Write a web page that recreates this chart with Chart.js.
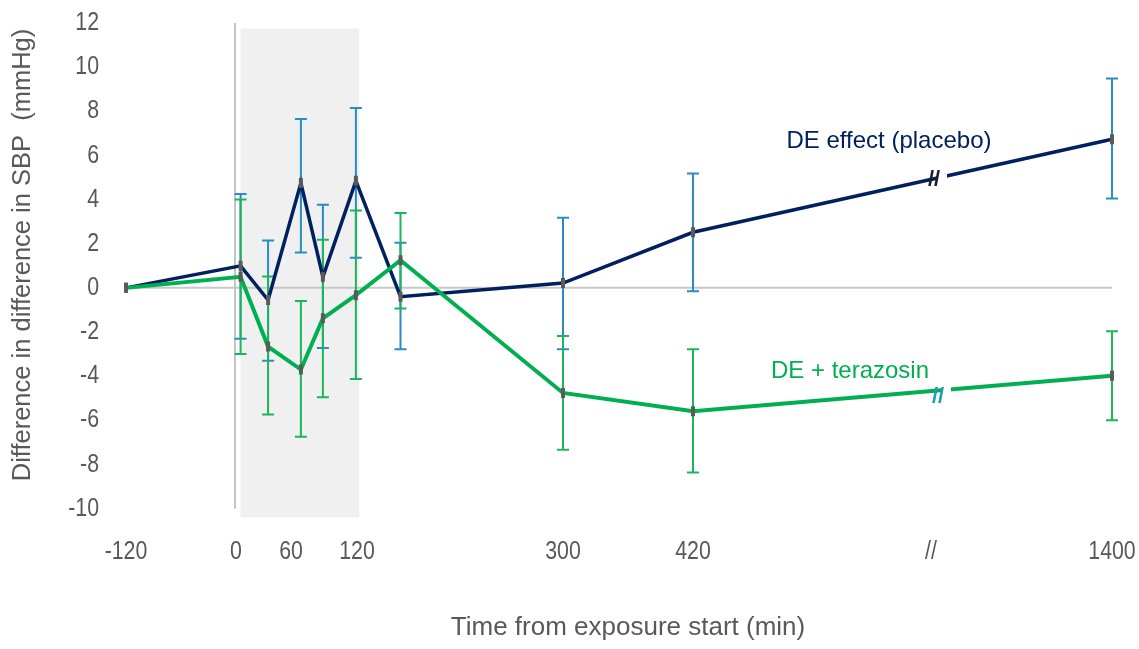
<!DOCTYPE html>
<html>
<head>
<meta charset="utf-8">
<title>SBP difference over time</title>
<script src="https://cdn.jsdelivr.net/npm/chart.js@4.4.1/dist/chart.umd.min.js"></script>
<style>
  html, body { margin: 0; padding: 0; background: #fff; }
  #chart { display: block; }
</style>
</head>
<body>
<canvas id="chart" width="1139" height="649"></canvas>
<script>
// Measurement times, minutes from exposure start
const timePoints = [-120, 5, 35, 69, 89, 119, 158, 300, 420, 1400];

// DE effect (placebo): mean and error-bar limits, mmHg
const placeboMean = [0, 1.0, -0.55, 4.75, 0.5, 4.85, -0.4, 0.22, 2.52, 6.73];
const placeboHigh = [null, 4.25, 2.15, 7.65, 3.77, 8.15, 2.04, 3.18, 5.18, 9.49];
const placeboLow  = [null, -2.31, -3.3, 1.6, -2.72, 1.37, -2.78, -2.78, -0.15, 4.05];

// DE + terazosin
const terazosinMean = [0, 0.5, -2.66, -3.7, -1.38, -0.33, 1.25, -4.76, -5.59, -3.98];
const terazosinHigh = [null, 4.0, 0.51, -0.6, 2.18, 3.5, 3.39, -2.18, -2.78, -1.97];
const terazosinLow  = [null, -3.0, -5.74, -6.74, -4.95, -4.13, -0.93, -7.33, -8.36, -6.0];

// x tick times ('cut' marks the axis break) and what they read
const tickTimes  = [-120, 0, 60, 120, 300, 420, 'cut', 1400];
const tickLabels = ['-120', '0', '60', '120', '300', '420', '//', '1400'];

// exposure window (shaded)
const exposureWindow = [5, 122];

// The time axis isn't uniform: it is drawn piecewise, with a cut before 1400 min
const axisTimes = [-120, 0, 60, 120, 300, 420, 1400];
const axisUnits = [-110, 0, 55, 121, 327, 457, 876];
const CUT_UNIT = 695;

function toAxis(t) {
  if (t === 'cut') return CUT_UNIT;
  for (let i = 1; i < axisTimes.length; i++) {
    if (t <= axisTimes[i] || i === axisTimes.length - 1) {
      const f = (t - axisTimes[i - 1]) / (axisTimes[i] - axisTimes[i - 1]);
      return axisUnits[i - 1] + f * (axisUnits[i] - axisUnits[i - 1]);
    }
  }
}

const NAVY = '#002060';
const GREEN = '#00b050';
const BLUE_ERR = '#2a8cc4';
const GREEN_ERR = '#1db55a';
const GREY_TEXT = '#595959';
const SANS = "'Liberation Sans', Arial, sans-serif";
const NARROW_X = 0.82;   // horizontal squeeze for the condensed tick digits

const toPoints = (vals) => timePoints.map((t, i) => ({ x: toAxis(t), y: vals[i] }));

// series name labels placed next to the lines (axis units / mmHg)
const seriesNotes = [
  { text: 'DE effect (placebo)', u: 653, v: 6.62, color: NAVY },
  { text: 'DE + terazosin', u: 614, v: -3.78, color: GREEN }
];

function drawErrorBars(ctx, x, y, hi, lo, color) {
  ctx.strokeStyle = color;
  ctx.lineWidth = 2;
  timePoints.forEach((t, i) => {
    if (hi[i] == null) return;
    const px = x.getPixelForValue(toAxis(t));
    const top = y.getPixelForValue(hi[i]);
    const bot = y.getPixelForValue(lo[i]);
    ctx.beginPath();
    ctx.moveTo(px, top); ctx.lineTo(px, bot);
    ctx.moveTo(px - 6, top); ctx.lineTo(px + 6, top);
    ctx.moveTo(px - 6, bot); ctx.lineTo(px + 6, bot);
    ctx.stroke();
  });
}

// gap plus "//" on the last segment, where it crosses the axis cut
function drawCut(ctx, x, y, mean, color, shift, drop) {
  const n = timePoints.length;
  const u0 = toAxis(timePoints[n - 2]);
  const u1 = toAxis(timePoints[n - 1]);
  const u = CUT_UNIT + shift;
  const f = (u - u0) / (u1 - u0);
  const v = mean[n - 2] + f * (mean[n - 1] - mean[n - 2]);
  const px = x.getPixelForValue(u);
  const py = y.getPixelForValue(v);
  ctx.fillStyle = '#fff';
  ctx.fillRect(px + 4, py - 8, 9, 16);
  ctx.fillStyle = color;
  ctx.font = 'bold 22px ' + SANS;
  ctx.textAlign = 'center';
  ctx.textBaseline = 'middle';
  ctx.fillText('//', px, py + 1 + drop);
}

// condensed text: regular sans squeezed horizontally
function narrowText(ctx, text, px, py, align) {
  ctx.save();
  ctx.translate(px, py);
  ctx.scale(NARROW_X, 1);
  ctx.textAlign = align;
  ctx.fillText(text, 0, 0);
  ctx.restore();
}

const decorations = {
  id: 'decorations',
  beforeDatasetsDraw(chart) {
    const { ctx, scales: { x, y } } = chart;
    ctx.save();
    // exposure window
    const sx0 = x.getPixelForValue(toAxis(exposureWindow[0]));
    const sx1 = x.getPixelForValue(toAxis(exposureWindow[1]));
    const sy0 = y.getPixelForValue(11.75);
    const sy1 = y.getPixelForValue(-10.4);
    ctx.fillStyle = '#f0f0f0';
    ctx.fillRect(sx0, sy0, sx1 - sx0, sy1 - sy0);

    // exposure start line
    ctx.strokeStyle = '#c4c4c4';
    ctx.lineWidth = 2;
    const vx = x.getPixelForValue(toAxis(0)) - 1;
    ctx.beginPath();
    ctx.moveTo(vx, y.getPixelForValue(12));
    ctx.lineTo(vx, y.getPixelForValue(-10));
    ctx.stroke();

    // zero line
    ctx.strokeStyle = '#c8c8c8';
    ctx.beginPath();
    ctx.moveTo(x.getPixelForValue(toAxis(-120)), y.getPixelForValue(0));
    ctx.lineTo(x.getPixelForValue(toAxis(1400)), y.getPixelForValue(0));
    ctx.stroke();

    drawErrorBars(ctx, x, y, placeboHigh, placeboLow, BLUE_ERR);
    drawErrorBars(ctx, x, y, terazosinHigh, terazosinLow, GREEN_ERR);
    ctx.restore();
  },
  afterDatasetsDraw(chart) {
    const { ctx, scales: { x, y } } = chart;
    ctx.save();
    drawCut(ctx, x, y, placeboMean, '#1a1a2e', 3, 0);
    drawCut(ctx, x, y, terazosinMean, '#1aa0ac', 7, 5);

    ctx.font = '24px ' + SANS;
    ctx.textAlign = 'center';
    ctx.textBaseline = 'middle';
    seriesNotes.forEach(n => {
      ctx.fillStyle = n.color;
      ctx.fillText(n.text, x.getPixelForValue(n.u), y.getPixelForValue(n.v));
    });
    ctx.restore();
  },
  afterDraw(chart) {
    const { ctx, chartArea, scales: { x, y } } = chart;
    ctx.save();
    ctx.fillStyle = GREY_TEXT;
    ctx.textBaseline = 'middle';

    // tick labels, condensed
    ctx.font = '26px ' + SANS;
    y.ticks.forEach(t => {
      narrowText(ctx, String(t.value), chartArea.left - 12, y.getPixelForValue(t.value), 'right');
    });
    x.ticks.forEach((t, i) => {
      narrowText(ctx, tickLabels[i], x.getPixelForValue(t.value), chartArea.bottom + 43, 'center');
    });

    // axis titles
    ctx.textAlign = 'center';
    ctx.font = '26px ' + SANS;
    ctx.fillText('Time from exposure start (min)', 628, 628);

    ctx.font = '25.5px ' + SANS;
    ctx.translate(23, 255);
    ctx.rotate(-Math.PI / 2);
    ctx.fillText('Difference in difference in SBP  (mmHg)', 0, 0);
    ctx.restore();
  }
};

const markerStyle = {
  pointStyle: 'line',
  pointRotation: 90,
  pointRadius: 5,
  pointBorderWidth: 4,
  pointBorderColor: '#5a5a5a',
  pointBackgroundColor: '#5a5a5a',
  pointHoverRadius: 5
};

new Chart(document.getElementById('chart'), {
  type: 'line',
  data: {
    datasets: [
      Object.assign({
        label: 'DE + terazosin',
        data: toPoints(terazosinMean),
        borderColor: GREEN,
        borderWidth: 4,
        tension: 0,
        order: 0
      }, markerStyle),
      Object.assign({
        label: 'DE effect (placebo)',
        data: toPoints(placeboMean),
        borderColor: NAVY,
        borderWidth: 3.5,
        tension: 0,
        order: 1
      }, markerStyle)
    ]
  },
  options: {
    responsive: false,
    animation: false,
    devicePixelRatio: 1,
    layout: { padding: { top: 23, right: 13, left: 0, bottom: 0 } },
    plugins: {
      legend: { display: false },
      tooltip: { enabled: false }
    },
    scales: {
      x: {
        type: 'linear',
        min: -125,
        max: 890,
        grid: { display: false, drawTicks: false },
        border: { display: false },
        afterBuildTicks: (scale) => {
          scale.ticks = tickTimes.map(t => ({ value: toAxis(t) }));
        },
        afterFit: (scale) => {
          scale.height = 140.4;
          scale.paddingLeft = 0;
          scale.paddingRight = 0;
        },
        ticks: { display: false }
      },
      y: {
        min: -10,
        max: 12,
        grid: { display: false, drawTicks: false },
        border: { display: false },
        afterFit: (scale) => {
          scale.width = 111;
          scale.paddingTop = 0;
          scale.paddingBottom = 0;
        },
        ticks: { display: false, stepSize: 2 }
      }
    }
  },
  plugins: [decorations]
});
</script>
</body>
</html>
